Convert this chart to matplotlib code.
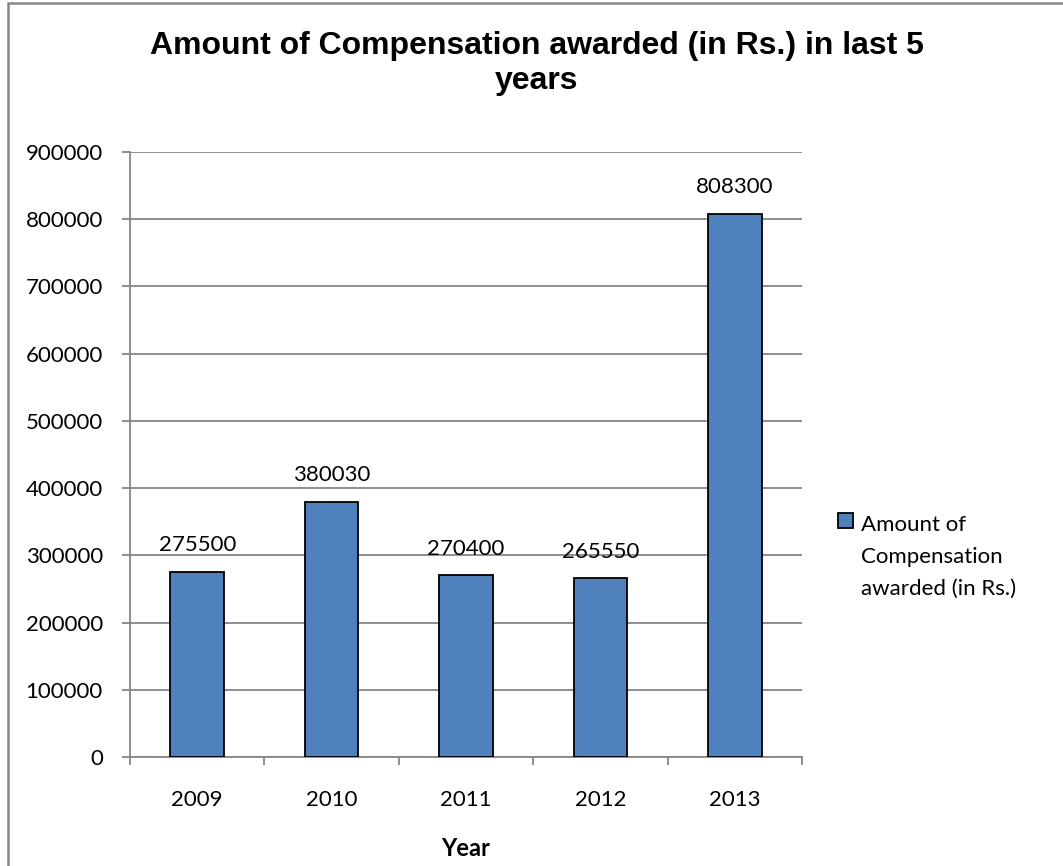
import matplotlib
matplotlib.use("Agg")
import matplotlib.pyplot as plt
from matplotlib.patches import Rectangle
import numpy as np

years = ["2009", "2010", "2011", "2012", "2013"]
amounts = [275500, 380030, 270400, 265550, 808300]
series_name = "Amount of\nCompensation\nawarded (in Rs.)"
title = "Amount of Compensation awarded (in Rs.) in last 5\nyears"
x_label = "Year"
y_ticks = [0, 100000, 200000, 300000, 400000, 500000, 600000, 700000, 800000, 900000]

BAR_COLOR = "#4F81BD"
GRID = "#868686"
FS = 16

W, H = 1063, 866
fig = plt.figure(figsize=(W / 100, H / 100), dpi=100)
fig.patch.set_facecolor("white")

def fx(px):
    return px / W

def fy(py):
    return 1 - py / H

# figure border (gray)
fig.add_artist(Rectangle((fx(8), -0.1), 1.2, fy(2.5) + 0.1,
                         transform=fig.transFigure, fill=False,
                         edgecolor=GRID, linewidth=1.8))

ax = fig.add_axes([fx(130), fy(757), fx(802 - 130), (757 - 152) / H])
x = np.arange(len(years))
bars = ax.bar(x, amounts, width=0.4, color=BAR_COLOR, edgecolor="black",
              linewidth=1.3, zorder=3, label=series_name)
ax.set_xlim(-0.5, len(years) - 0.5)
ax.set_ylim(0, 900000)
ax.set_yticks(y_ticks)
ax.set_yticklabels([str(v) for v in y_ticks], family="Lato", fontsize=FS)
ax.yaxis.grid(True, color=GRID, linewidth=1.3, zorder=0)
ax.set_xticks(x)
ax.set_xticklabels(years, family="Lato", fontsize=FS)
ax.tick_params(axis="x", length=0, pad=24)
ax.tick_params(axis="y", length=6, color=GRID, width=1.3, pad=13.5)
ax.set_xticks(np.arange(-0.5, len(years), 1), minor=True)
ax.tick_params(axis="x", which="minor", length=6, color=GRID, width=1.3)
for s in ["top", "right"]:
    ax.spines[s].set_visible(False)
for s in ["left", "bottom"]:
    ax.spines[s].set_color(GRID)
    ax.spines[s].set_linewidth(1.3)

for xi, v in zip(x, amounts):
    ax.annotate(str(v), (xi, v), xytext=(0, 19), textcoords="offset points",
                ha="center", va="center", family="Lato", fontsize=FS)

fig.text(fx(466), fy(848), x_label, ha="center", va="center",
         family="Lato", fontweight="bold", fontsize=17)

# title: va='baseline' aligns the last line's baseline
fig.text(fx(537), fy(89), title, ha="center", va="baseline",
         family="Liberation Sans", fontweight="bold", fontsize=23,
         linespacing=1.2)

# legend (square handle aligned with first text line, as in the original)
fig.add_artist(Rectangle((fx(838), fy(528)), fx(15), 15 / H,
                         transform=fig.transFigure, facecolor=BAR_COLOR,
                         edgecolor="black", linewidth=1.3))
fig.text(fx(861), fy(595), series_name, ha="left", va="baseline",
         family="Lato", fontsize=FS, linespacing=1.76)

fig.savefig("out.png", dpi=100)
